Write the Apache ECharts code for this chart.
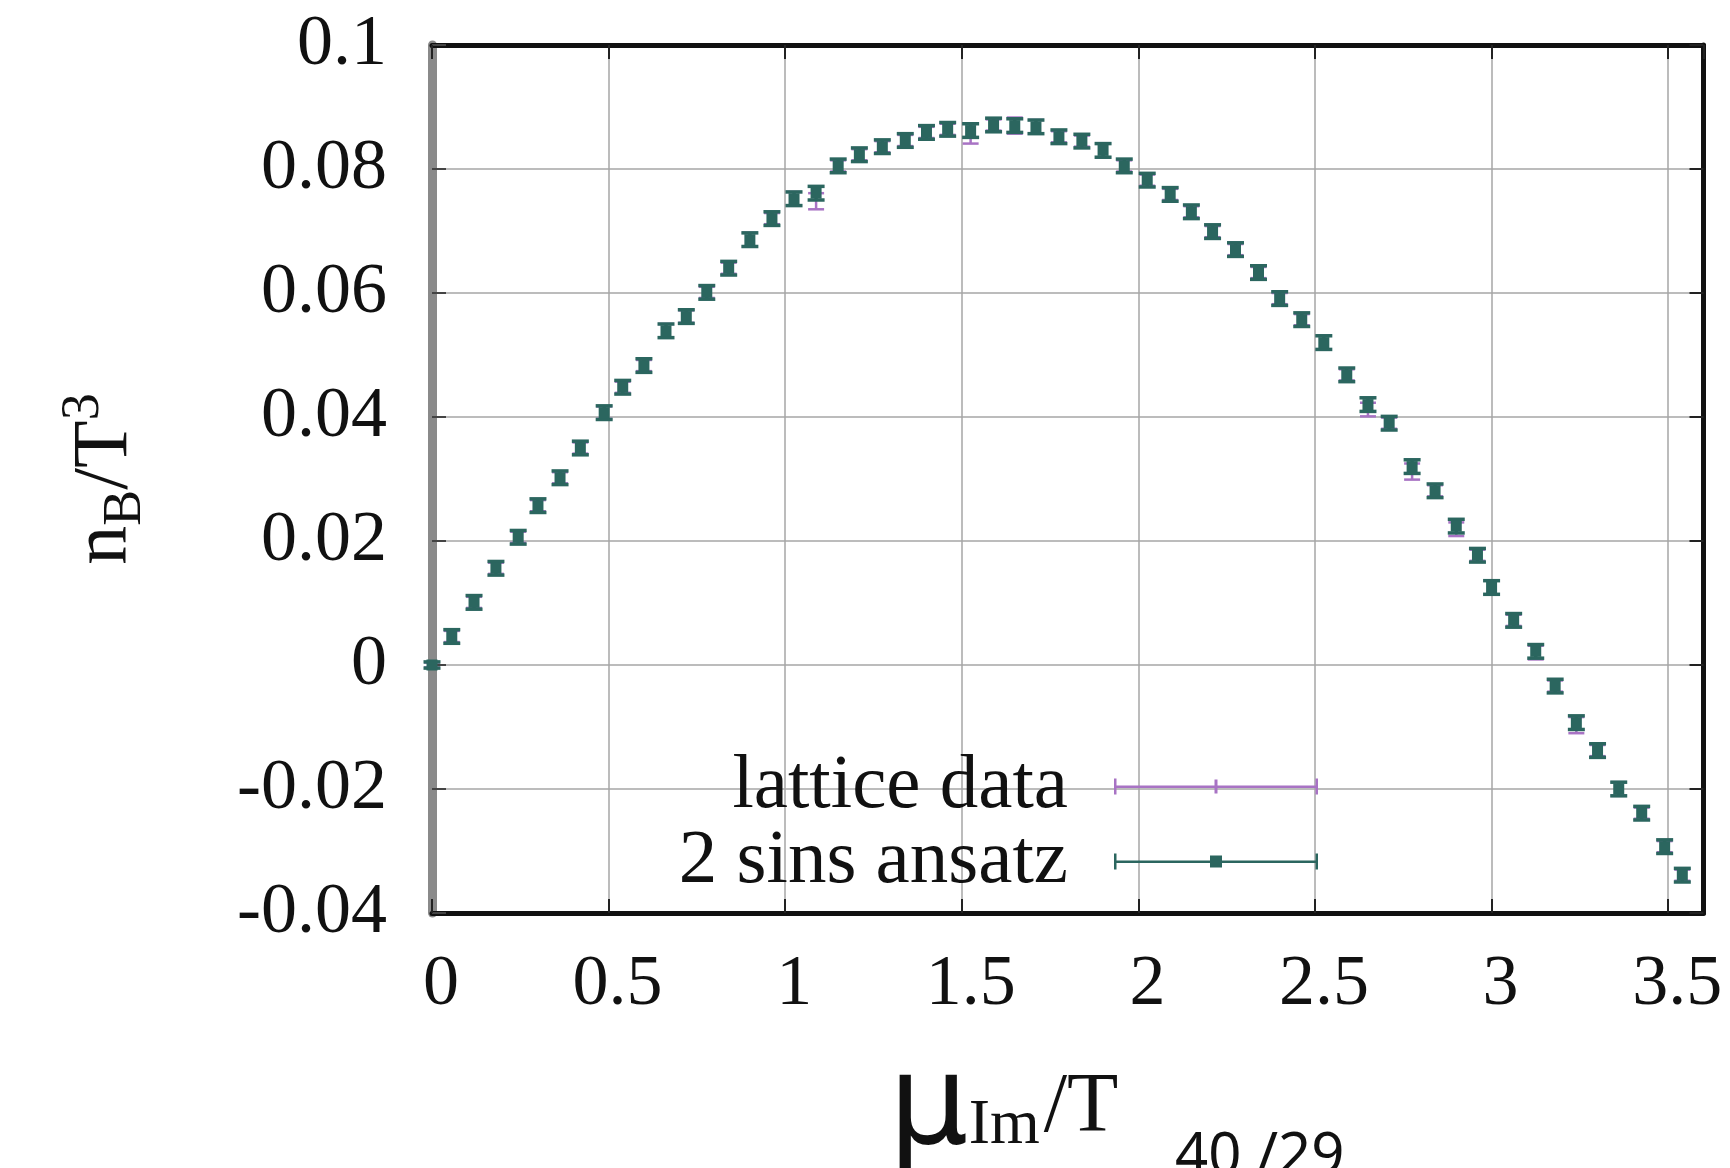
<!DOCTYPE html>
<html>
<head>
<meta charset="utf-8">
<script src="https://cdn.jsdelivr.net/npm/echarts/dist/echarts.min.js"></script>
<style>
html, body { margin: 0; padding: 0; background: #ffffff; }
#chart { width: 1730px; height: 1168px; }
</style>
</head>
<body>
<div id="chart"></div>
<script>
// ---- data ----
const muOverT = [0, 0.056, 0.119, 0.181, 0.244, 0.300, 0.3625, 0.42, 0.4875, 0.54,
  0.60, 0.6625, 0.72, 0.778, 0.84, 0.90, 0.9625, 1.025, 1.0875, 1.15,
  1.21, 1.275, 1.34, 1.40, 1.46, 1.525, 1.59, 1.65, 1.71, 1.775,
  1.84, 1.90, 1.96, 2.025, 2.09, 2.15, 2.21, 2.275, 2.34, 2.40,
  2.4625, 2.525, 2.59, 2.65, 2.71, 2.775, 2.84, 2.90, 2.96, 3.0,
  3.0625, 3.125, 3.18, 3.24, 3.30, 3.36, 3.425, 3.49, 3.54];

const latticeValues = [0, 0.0046, 0.0101, 0.0156, 0.0206, 0.0257, 0.0302, 0.0350, 0.0407, 0.0448,
  0.0483, 0.0539, 0.0562, 0.0601, 0.0640, 0.0686, 0.0720, 0.0752, 0.0748, 0.0805,
  0.0823, 0.0836, 0.0846, 0.0859, 0.0864, 0.0857, 0.0871, 0.0870, 0.0868, 0.0852,
  0.0845, 0.0830, 0.0805, 0.0782, 0.0759, 0.0731, 0.0699, 0.0670, 0.0633, 0.0591,
  0.0557, 0.0520, 0.0468, 0.0412, 0.0390, 0.0312, 0.0281, 0.0219, 0.0177, 0.0125,
  0.0072, 0.0020, -0.0034, -0.0097, -0.0138, -0.0200, -0.0239, -0.0293, -0.0339];

const latticeErrors = [0.0004, 0.0009, 0.0009, 0.0009, 0.0009, 0.0009, 0.0009, 0.0009, 0.0010, 0.0009,
  0.0009, 0.0011, 0.0010, 0.0009, 0.0009, 0.0011, 0.0009, 0.0011, 0.0013, 0.0009,
  0.0009, 0.0009, 0.0009, 0.0009, 0.0009, 0.0016, 0.0009, 0.0013, 0.0011, 0.0009,
  0.0009, 0.0011, 0.0009, 0.0009, 0.0009, 0.0009, 0.0009, 0.0009, 0.0009, 0.0009,
  0.0009, 0.0011, 0.0009, 0.0011, 0.0009, 0.0013, 0.0009, 0.0011, 0.0009, 0.0011,
  0.0009, 0.0011, 0.0009, 0.0013, 0.0009, 0.0011, 0.0009, 0.0009, 0.0009];

const ansatzValues = [0, 0.0046, 0.0101, 0.0156, 0.0206, 0.0257, 0.0302, 0.0350, 0.0407, 0.0448,
  0.0483, 0.0539, 0.0562, 0.0601, 0.0640, 0.0686, 0.0720, 0.0752, 0.0761, 0.0805,
  0.0823, 0.0836, 0.0846, 0.0859, 0.0864, 0.0862, 0.0871, 0.0870, 0.0868, 0.0852,
  0.0845, 0.0830, 0.0805, 0.0782, 0.0759, 0.0731, 0.0699, 0.0670, 0.0633, 0.0591,
  0.0557, 0.0520, 0.0468, 0.0420, 0.0390, 0.0320, 0.0281, 0.0224, 0.0177, 0.0125,
  0.0072, 0.0022, -0.0034, -0.0093, -0.0138, -0.0200, -0.0239, -0.0293, -0.0339];

const ansatzErrors = [0.0005, 0.0011, 0.0011, 0.0011, 0.0011, 0.0011, 0.0011, 0.0011, 0.0011, 0.0011,
  0.0011, 0.0011, 0.0011, 0.0011, 0.0011, 0.0011, 0.0011, 0.0011, 0.0011, 0.0011,
  0.0011, 0.0011, 0.0011, 0.0011, 0.0011, 0.0011, 0.0011, 0.0011, 0.0011, 0.0011,
  0.0011, 0.0011, 0.0011, 0.0011, 0.0011, 0.0011, 0.0011, 0.0011, 0.0011, 0.0011,
  0.0011, 0.0011, 0.0011, 0.0011, 0.0011, 0.0011, 0.0011, 0.0011, 0.0011, 0.0011,
  0.0011, 0.0011, 0.0011, 0.0011, 0.0011, 0.0011, 0.0011, 0.0011, 0.0011];

const xTicks = { min: 0, max: 3.6, interval: 0.5 };
const yTicks = { min: -0.04, max: 0.1, interval: 0.02 };
const seriesNames = ['lattice data', '2 sins ansatz'];
const pageNumber = '40 /29';

// ---- build ----
const latticeData = muOverT.map((x, i) => [x, latticeValues[i], latticeErrors[i]]);
const ansatzData = muOverT.map((x, i) => [x, ansatzValues[i], ansatzErrors[i]]);

const LATTICE_COLOR = '#a873c4';
const ANSATZ_COLOR = '#2b665f';

function makeErrRender(capHalf, lw, color, dot) {
  return function (params, api) {
    const x = api.value(0), y = api.value(1), e = api.value(2);
    const p = api.coord([x, y]);
    const hi = api.coord([x, y + e]);
    const lo = api.coord([x, y - e]);
    const st = { stroke: color, lineWidth: lw };
    const children = [
      { type: 'line', shape: { x1: p[0], y1: hi[1], x2: p[0], y2: lo[1] }, style: st },
      { type: 'line', shape: { x1: p[0] - capHalf, y1: hi[1], x2: p[0] + capHalf, y2: hi[1] }, style: st },
      { type: 'line', shape: { x1: p[0] - capHalf, y1: lo[1], x2: p[0] + capHalf, y2: lo[1] }, style: st }
    ];
    if (dot) {
      children.push({ type: 'rect', shape: { x: p[0] - dot / 2, y: p[1] - dot / 2, width: dot, height: dot }, style: { fill: color } });
    }
    return { type: 'group', children: children };
  };
}

const serif = '"Liberation Serif", "Times New Roman", serif';
const tickFont = { fontFamily: serif, fontSize: 72, lineHeight: 72, color: '#111' };

const iconLattice = 'path://M0,10L204,10L204,12.5L0,12.5Z M0,3L2.5,3L2.5,19L0,19Z M100.5,4L103.5,4L103.5,18L100.5,18Z M201.5,3L204,3L204,19L201.5,19Z';
const iconAnsatz = 'path://M0,10L204,10L204,12.5L0,12.5Z M0,3L2.5,3L2.5,19L0,19Z M96,5L108,5L108,17L96,17Z M201.5,3L204,3L204,19L201.5,19Z';

const legendBase = {
  orient: 'vertical', align: 'right', right: 412, padding: 0,
  itemWidth: 204, itemHeight: 22, selectedMode: false,
  textStyle: { fontFamily: serif, fontSize: 77, lineHeight: 76, color: '#111', padding: [0, 41, 0, 0] }
};

const chart = echarts.init(document.getElementById('chart'), null, { renderer: 'canvas' });
chart.setOption({
  animation: false,
  backgroundColor: '#ffffff',
  grid: { left: 432, right: 26.5, top: 45, bottom: 255, containLabel: false, outerBoundsMode: 'none' },
  legend: [
    Object.assign({}, legendBase, { data: [seriesNames[0]], top: 748, icon: iconLattice }),
    Object.assign({}, legendBase, { data: [seriesNames[1]], top: 823, icon: iconAnsatz })
  ],
  xAxis: [
    {
      type: 'value', position: 'bottom', min: xTicks.min, max: xTicks.max, interval: xTicks.interval,
      axisLine: { onZero: false, lineStyle: { color: '#111', width: 5 } },
      axisTick: { inside: true, length: 14, lineStyle: { color: '#222', width: 2 } },
      splitLine: { show: true, lineStyle: { color: '#a6a6a6', width: 1.5 } },
      axisLabel: Object.assign({ margin: 36, showMaxLabel: false, padding: [0, 0, 0, 18] }, tickFont),
      name: '{mu|μ}{im|Im}{t|/T}',
      nameLocation: 'middle', nameGap: 135,
      nameTextStyle: {
        rich: {
          mu: { fontFamily: '"DejaVu Sans", sans-serif', fontSize: 125, height: 125, verticalAlign: 'bottom', color: '#111' },
          im: { fontFamily: serif, fontSize: 64, height: 64, verticalAlign: 'bottom', color: '#111', padding: [0, 0, 15, 0] },
          t: { fontFamily: serif, fontSize: 84, height: 84, verticalAlign: 'bottom', color: '#111', padding: [0, 128, 22, 4] }
        }
      }
    },
    {
      type: 'value', position: 'top', min: xTicks.min, max: xTicks.max, interval: xTicks.interval,
      axisLine: { onZero: false, lineStyle: { color: '#111', width: 5 } },
      axisTick: { inside: true, length: 14, lineStyle: { color: '#222', width: 2 } },
      splitLine: { show: false }, axisLabel: { show: false }
    }
  ],
  yAxis: [
    {
      type: 'value', position: 'left', min: yTicks.min, max: yTicks.max, interval: yTicks.interval,
      axisLine: { onZero: false, lineStyle: { color: '#8a8a8a', width: 9 } },
      axisTick: { inside: true, length: 14, lineStyle: { color: '#444', width: 2 } },
      splitLine: { show: true, lineStyle: { color: '#a6a6a6', width: 1.5 } },
      axisLabel: Object.assign({ margin: 45 }, tickFont),
      name: '{n|n}{b|B}{t|/T}{s|3}',
      nameLocation: 'middle', nameRotate: 90, nameGap: 277,
      nameTextStyle: {
        rich: {
          n: { fontFamily: serif, fontSize: 78, height: 78, verticalAlign: 'bottom', color: '#111', padding: [0, 0, 10, 0] },
          b: { fontFamily: serif, fontSize: 54, height: 54, verticalAlign: 'bottom', color: '#111', padding: [0, 0, 2, 0] },
          t: { fontFamily: serif, fontSize: 78, height: 78, verticalAlign: 'bottom', color: '#111', padding: [0, 0, 10, 0] },
          s: { fontFamily: serif, fontSize: 54, height: 54, verticalAlign: 'bottom', color: '#111', padding: [0, 0, 44, 0] }
        }
      }
    },
    {
      type: 'value', position: 'right', min: yTicks.min, max: yTicks.max, interval: yTicks.interval,
      axisLine: { onZero: false, lineStyle: { color: '#111', width: 5 } },
      axisTick: { inside: true, length: 14, lineStyle: { color: '#222', width: 2 } },
      splitLine: { show: false }, axisLabel: { show: false }
    }
  ],
  series: [
    {
      name: seriesNames[0], type: 'custom', xAxisIndex: 0, yAxisIndex: 0,
      itemStyle: { color: LATTICE_COLOR },
      renderItem: makeErrRender(8, 2.5, LATTICE_COLOR, 0),
      encode: { x: 0, y: 1 },
      data: latticeData, z: 3
    },
    {
      name: seriesNames[1], type: 'custom', xAxisIndex: 0, yAxisIndex: 0,
      itemStyle: { color: ANSATZ_COLOR },
      renderItem: makeErrRender(8.5, 3.5, ANSATZ_COLOR, 11),
      encode: { x: 0, y: 1 },
      data: ansatzData, z: 4
    }
  ],
  graphic: [
    { type: 'text', left: 1175, top: 1128, style: { text: pageNumber, font: '58px "Noto Sans"', fill: '#111' } }
  ]
});
</script>
</body>
</html>
